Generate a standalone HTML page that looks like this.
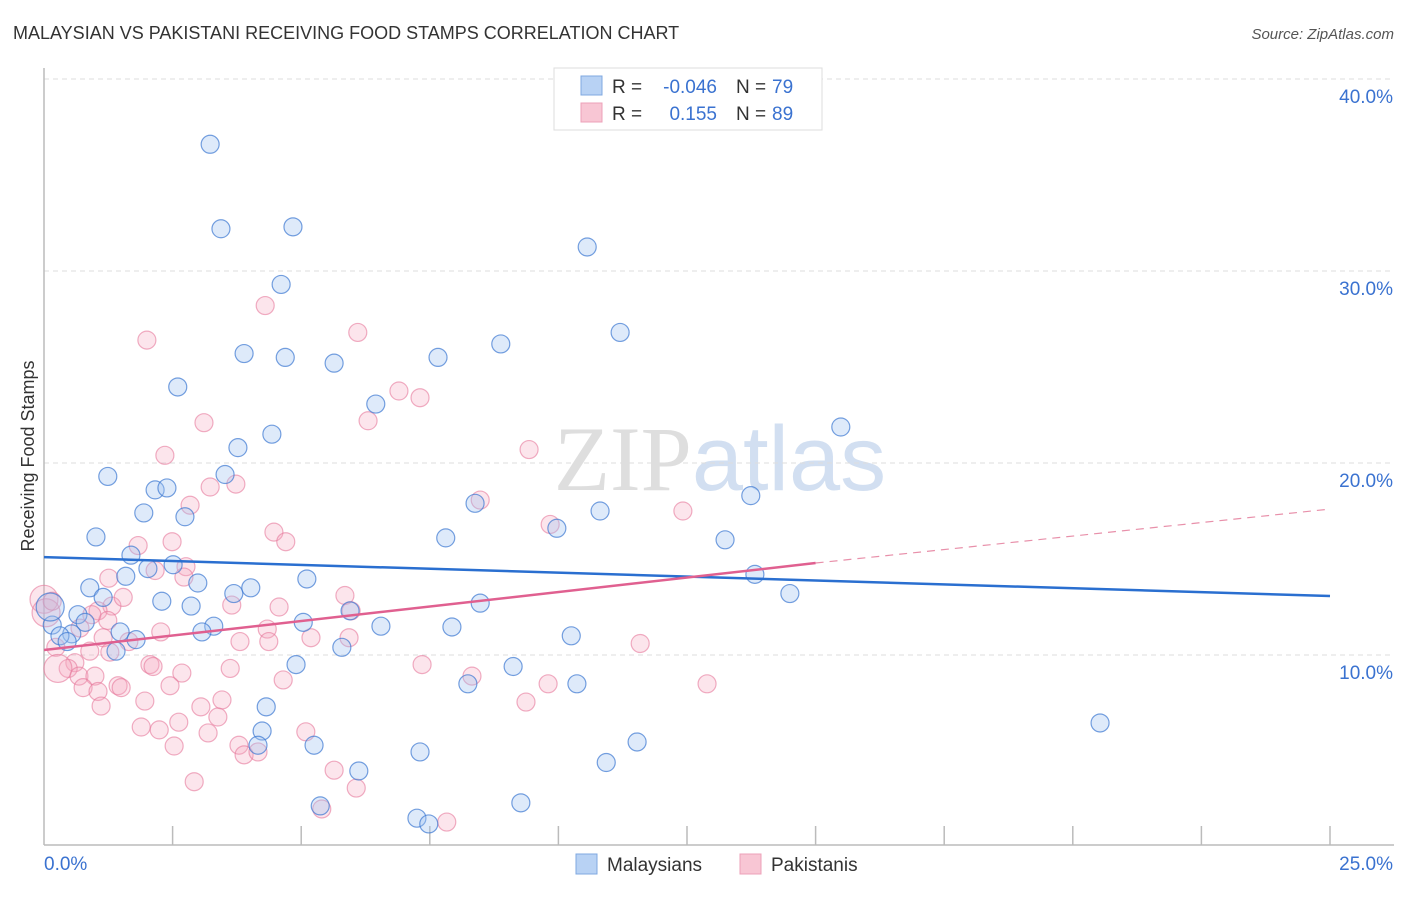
<!DOCTYPE html>
<html><head><meta charset="utf-8"><style>
body{margin:0;background:#fff;font-family:"Liberation Sans",sans-serif;}
svg text{font-family:"Liberation Sans",sans-serif;}
</style></head><body>
<svg id="chart" width="1406" height="892" viewBox="0 0 1406 892" xmlns="http://www.w3.org/2000/svg">
<text x="13" y="39" font-size="18" fill="#333">MALAYSIAN VS PAKISTANI RECEIVING FOOD STAMPS CORRELATION CHART</text>
<text x="1394" y="39" font-size="15" fill="#555" font-style="italic" text-anchor="end">Source: ZipAtlas.com</text>
<text x="720" y="490" font-size="92" text-anchor="middle" fill="#ddd" opacity="0.8"><tspan font-family="Liberation Serif" fill="#d6d6d6">ZIP</tspan><tspan fill="#c8d8ee">atlas</tspan></text>
<g id="grid"></g>
<g id="axes"></g>
<g id="pts"></g>
<g id="trends"></g>
<text transform="translate(34,456) rotate(-90)" font-size="18" fill="#333" text-anchor="middle">Receiving Food Stamps</text>
<g>
<rect x="554" y="68" width="268" height="62" fill="#fff" stroke="#ddd"/>
<rect x="581" y="76" width="21" height="19" fill="#b8d2f4" stroke="#7fa8e0"/>
<rect x="581" y="103" width="21" height="19" fill="#f8c6d4" stroke="#eda0b8"/>
<text x="612" y="93" font-size="19" fill="#333">R =</text>
<text x="717" y="93" font-size="19" fill="#3a72d0" text-anchor="end">-0.046</text>
<text x="736" y="93" font-size="19" fill="#333">N =</text>
<text x="772" y="93" font-size="19" fill="#3a72d0">79</text>
<text x="612" y="120" font-size="19" fill="#333">R =</text>
<text x="717" y="120" font-size="19" fill="#3a72d0" text-anchor="end">0.155</text>
<text x="736" y="120" font-size="19" fill="#333">N =</text>
<text x="772" y="120" font-size="19" fill="#3a72d0">89</text>
</g>
<g>
<rect x="576" y="854" width="21" height="20" fill="#b8d2f4" stroke="#7fa8e0"/>
<text x="607" y="871" font-size="19" fill="#333">Malaysians</text>
<rect x="740" y="854" width="21" height="20" fill="#f8c6d4" stroke="#eda0b8"/>
<text x="771" y="871" font-size="19" fill="#333">Pakistanis</text>
</g>
</svg>
<script>
const blueX=[3.23,3.44,4.84,10.56,4.61,11.2,8.88,3.89,4.69,5.64,7.66,2.6,6.45,15.49,4.43,3.77,1.24,3.52,2.16,2.39,13.74,8.38,1.94,2.74,10.81,9.97,1.01,7.81,13.24,1.69,2.51,2.02,1.59,13.82,5.11,2.99,3.69,4.02,0.89,14.5,2.29,2.86,8.48,1.15,5.95,5.04,6.55,7.93,3.3,0.66,0.8,0.16,1.48,1.79,10.25,3.07,0.54,0.31,0.45,5.79,1.4,4.9,9.12,8.24,10.36,4.32,20.53,4.24,11.53,4.16,5.25,7.31,10.93,6.12,5.37,9.27,7.25,7.48,0.12];
const blueY=[36.6,32.2,32.3,31.25,29.3,26.8,26.2,25.7,25.5,25.2,25.5,23.96,23.07,21.875,21.5,20.8,19.3,19.4,18.6,18.7,18.3,17.9,17.4,17.2,17.5,16.6,16.15,16.1,16.0,15.2,14.7,14.5,14.1,14.2,13.96,13.75,13.2,13.5,13.5,13.2,12.8,12.55,12.7,13.0,12.3,11.7,11.5,11.46,11.5,12.1,11.7,11.56,11.2,10.8,11.0,11.2,11.1,11.0,10.7,10.4,10.2,9.5,9.4,8.5,8.5,7.3,6.46,6.04,5.47,5.3,5.3,4.95,4.4,3.96,2.14,2.3,1.5,1.2,12.5];
const pinkX=[4.3,6.1,2.0,6.9,7.31,6.3,3.11,2.35,9.43,3.73,3.23,8.48,2.84,9.84,12.42,4.47,4.7,2.49,1.83,2.16,2.76,2.72,1.26,1.32,1.54,1.05,1.24,0.93,3.65,4.57,5.85,5.97,0.7,2.27,4.34,1.65,1.15,3.81,4.37,5.19,5.93,11.59,0.23,0.6,0.89,1.28,0.47,2.06,2.12,2.68,3.62,7.35,0.27,8.32,0.68,0.99,4.65,9.8,12.89,0.76,1.44,1.5,2.45,1.05,1.96,3.46,3.05,1.11,9.37,2.62,3.38,1.89,2.24,3.19,5.09,3.79,2.53,3.89,4.16,5.64,2.92,6.07,5.4,7.83,0,0.04,0.16];
const pinkY=[28.2,26.8,26.4,23.75,23.4,22.2,22.1,20.4,20.7,18.9,18.75,18.07,17.8,16.8,17.5,16.4,15.9,15.9,15.7,14.4,14.6,14.06,14.0,12.55,13.0,12.3,11.8,12.1,12.6,12.5,13.1,12.3,11.4,11.2,11.35,10.7,10.9,10.7,10.7,10.9,10.9,10.6,10.4,9.6,10.2,10.15,9.3,9.5,9.4,9.06,9.3,9.5,9.3,8.9,8.9,8.9,8.7,8.5,8.5,8.3,8.4,8.3,8.4,8.1,7.6,7.66,7.3,7.34,7.55,6.5,6.77,6.25,6.1,5.94,6.0,5.3,5.26,4.8,4.95,4.0,3.4,3.07,1.98,1.3,12.9,12.2,12.8];
const blueBig=[78];
const pinkBig=[52,84,85];
const blueTrend=[15.1,13.07];
const pinkTrend=[10.26,14.79,17.6];
const pinkSolidEnd=15;
const yTicks=[10,20,30,40];
const xTickLabels=["0.0%","25.0%"];
const NS="http://www.w3.org/2000/svg";
const X0=44,X1=1330,YB=847,PXPER=19.2;
const sx=v=>X0+(X1-X0)*v/25;
const sy=v=>YB-v*PXPER;
function mk(t,a,p){const e=document.createElementNS(NS,t);for(const k in a)e.setAttribute(k,a[k]);p.appendChild(e);return e;}
const grid=document.getElementById('grid'),axes=document.getElementById('axes'),pts=document.getElementById('pts'),tr=document.getElementById('trends');
yTicks.forEach(v=>{
 const l=mk('line',{x1:X0,x2:1394,y1:sy(v),y2:sy(v),stroke:'#ddd','stroke-dasharray':'5,4'},grid);
 
 
 const t=mk('text',{x:1393,y:sy(v)+24,'font-size':19,fill:'#3a72d0','text-anchor':'end'},axes);
 t.textContent=v.toFixed(1)+'%';
 
 
});
mk('line',{x1:X0,x2:X0,y1:68,y2:845,stroke:'#bbb','stroke-width':1.5},axes);
mk('line',{x1:X0,x2:1394,y1:845,y2:845,stroke:'#bbb','stroke-width':1.5},axes);
for(let i=1;i<=10;i++){const x=sx(i*2.5);const tk=mk('line',{x1:x,x2:x,y1:826,y2:845,stroke:'#bbb','stroke-width':1.5},axes);
 
 }
const t0=mk('text',{x:44,y:870,'font-size':19,fill:'#3a72d0'},axes);t0.textContent=xTickLabels[0];


const t1=mk('text',{x:1393,y:870,'font-size':19,fill:'#3a72d0','text-anchor':'end'},axes);t1.textContent=xTickLabels[1];


pinkX.forEach((x,i)=>{const c=mk('circle',{cx:sx(x),cy:sy(pinkY[i]),r:pinkBig.includes(i)?14:9,fill:'rgba(244,170,192,0.3)',stroke:'rgba(230,120,155,0.6)','stroke-width':1.2},pts);
 
 });
blueX.forEach((x,i)=>{const c=mk('circle',{cx:sx(x),cy:sy(blueY[i]),r:blueBig.includes(i)?14:9,fill:'rgba(160,195,240,0.35)',stroke:'rgba(60,120,210,0.7)','stroke-width':1.2},pts);
 
 });
const bl=mk('line',{x1:sx(0),y1:sy(blueTrend[0]),x2:sx(25),y2:sy(blueTrend[1]),stroke:'#2a6fd0','stroke-width':2.5},tr);


const pl=mk('line',{x1:sx(0),y1:sy(pinkTrend[0]),x2:sx(pinkSolidEnd),y2:sy(pinkTrend[1]),stroke:'#e06090','stroke-width':2.5},tr);


const pd=mk('line',{x1:sx(pinkSolidEnd),y1:sy(pinkTrend[1]),x2:sx(25),y2:sy(pinkTrend[2]),stroke:'#e890aa','stroke-width':1.2,'stroke-dasharray':'8,6'},tr);


</script>
</body></html>
